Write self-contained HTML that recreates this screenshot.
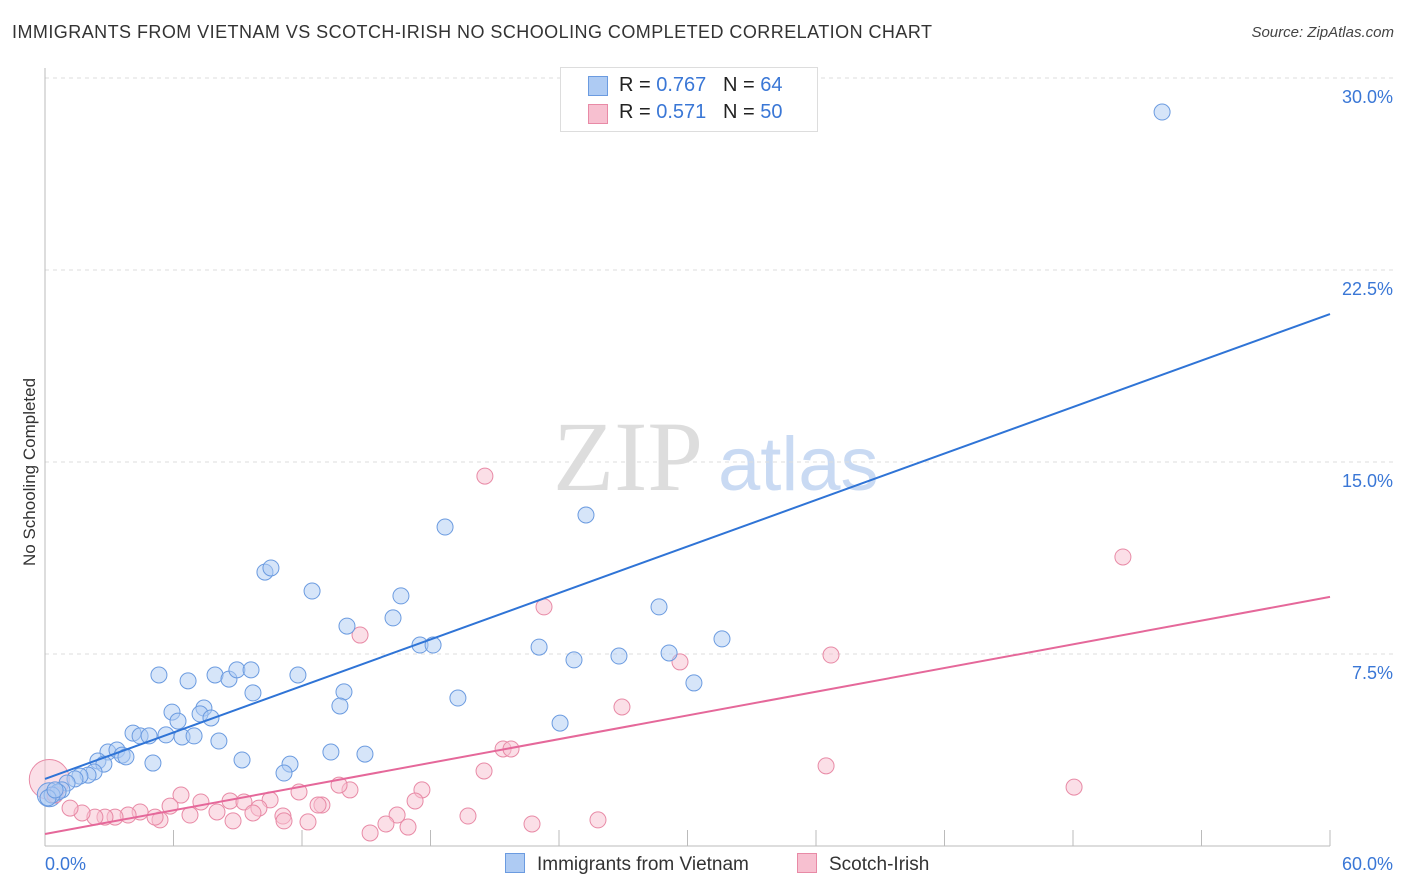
<!DOCTYPE html>
<html><head><meta charset="utf-8">
<style>
body{margin:0;background:#fff;font-family:"Liberation Sans",sans-serif;}
#wrap{position:relative;width:1406px;height:892px;overflow:hidden;}
.t{position:absolute;white-space:nowrap;}
</style></head>
<body>
<div id="wrap">
<div class="t" style="left:12px;top:22px;font-size:18px;color:#333;letter-spacing:0.45px;">IMMIGRANTS FROM VIETNAM VS SCOTCH-IRISH NO SCHOOLING COMPLETED CORRELATION CHART</div>
<div class="t" style="right:12px;top:24px;font-size:15px;color:#444;font-style:italic;">Source: ZipAtlas.com</div>
<div class="t" style="font-size:17px;color:#333;transform:rotate(-90deg);transform-origin:0 0;left:20px;top:566px;">No Schooling Completed</div>
<svg id="svg" width="1406" height="892" style="position:absolute;left:0;top:0"></svg>
<div class="t" style="left:560px;top:67px;width:256px;height:63px;border:1px solid #ddd;background:#fff;">
 <div style="position:absolute;left:27px;top:8px;width:18px;height:18px;background:#aecbf3;border:1px solid #6b9be0;"></div>
 <div style="position:absolute;left:58px;top:6px;font-size:20px;color:#222;">R = <span style="color:#3a77d6">0.767</span>&nbsp;&nbsp;&nbsp;N = <span style="color:#3a77d6">64</span></div>
 <div style="position:absolute;left:27px;top:36px;width:18px;height:18px;background:#f7c0d0;border:1px solid #e88aa6;"></div>
 <div style="position:absolute;left:58px;top:33px;font-size:20px;color:#222;">R = <span style="color:#3a77d6">0.571</span>&nbsp;&nbsp;&nbsp;N = <span style="color:#3a77d6">50</span></div>
</div>
<div class="t" style="left:505px;top:853px;font-size:19px;color:#333;"><span style="display:inline-block;width:18px;height:18px;background:#aecbf3;border:1px solid #6b9be0;vertical-align:-3px;margin-right:12px;"></span>Immigrants from Vietnam</div>
<div class="t" style="left:797px;top:853px;font-size:19px;color:#333;"><span style="display:inline-block;width:18px;height:18px;background:#f7c0d0;border:1px solid #e88aa6;vertical-align:-3px;margin-right:12px;"></span>Scotch-Irish</div>
</div>
<script>
const yTicks=[7.5,15,22.5,30];
const yTickLabels=["7.5%","15.0%","22.5%","30.0%"];
const xTickLabels=["0.0%","60.0%"];
const blueX=[];const blueY=[];const pinkX=[];const pinkY=[];
const bluePx=[[1162,112],[445,527],[586,515],[265,572],[271,568],[312,591],[401,596],[347,626],[393,618],[659,607],[420,645],[433,645],[539,647],[574,660],[619,656],[669,653],[722,639],[694,683],[159,675],[188,681],[215,675],[229,679],[237,670],[251,670],[298,675],[253,693],[344,692],[340,706],[458,698],[560,723],[172,712],[204,708],[200,714],[211,718],[178,721],[133,733],[140,736],[149,736],[166,735],[182,737],[194,736],[219,741],[108,752],[117,750],[122,755],[126,757],[98,761],[104,764],[153,763],[242,760],[331,752],[365,754],[290,764],[284,773],[94,772],[88,775],[80,776],[75,779],[67,783],[62,790],[58,792],[52,795],[48,798],[55,790]];
const pinkPx=[[485,476],[1123,557],[544,607],[360,635],[831,655],[680,662],[622,707],[503,749],[511,749],[484,771],[1074,787],[826,766],[422,790],[350,790],[339,785],[299,792],[181,795],[230,801],[270,800],[244,802],[201,802],[170,806],[140,812],[128,815],[322,805],[318,805],[415,801],[397,815],[386,824],[370,833],[468,816],[532,824],[598,820],[408,827],[308,822],[283,816],[284,821],[259,808],[253,813],[233,821],[217,812],[190,815],[160,820],[155,817],[115,817],[105,817],[95,817],[82,813],[70,808],[55,795]];
bluePx.forEach(p=>{blueX.push(+((p[0]-45)/1285*60).toFixed(2));blueY.push(+((846-p[1])/25.6).toFixed(2));});
pinkPx.forEach(p=>{pinkX.push(+((p[0]-45)/1285*60).toFixed(2));pinkY.push(+((846-p[1])/25.6).toFixed(2));});
const blueTrend=[2.62,20.78];const pinkTrend=[0.47,9.73];
const X=v=>45+v/60*1285, Y=v=>846-v*25.6;
const svg=document.getElementById('svg');const NS='http://www.w3.org/2000/svg';
function mk(t,a){const e=document.createElementNS(NS,t);for(const k in a)e.setAttribute(k,a[k]);svg.appendChild(e);return e;}
let wm=mk('text',{x:553,y:490,'font-size':100,fill:'#ddd','font-family':'Liberation Serif'});wm.textContent='ZIP';


let wm2=mk('text',{x:718,y:490,'font-size':76,fill:'#c9daf3','font-family':'Liberation Sans'});wm2.textContent='atlas';


yTicks.forEach((v,i)=>{const l=mk('line',{x1:45,x2:1393,y1:Y(v),y2:Y(v),stroke:'#ddd','stroke-dasharray':'4,4'});


const t=mk('text',{x:1393,y:Y(v)+25,'text-anchor':'end','font-size':18,fill:'#3a77d6'});t.textContent=yTickLabels[i];

});
mk('line',{x1:45,x2:45,y1:68,y2:846,stroke:'#bbb'});
mk('line',{x1:45,x2:1330,y1:846,y2:846,stroke:'#bbb'});
for(let i=0;i<=10;i++){const l=mk('line',{x1:X(i*6),x2:X(i*6),y1:830,y2:846,stroke:'#bbb'});

}
[[0,45,'start'],[1,1393,'end']].forEach(a=>{const t=mk('text',{x:a[1],y:870,'text-anchor':a[2],'font-size':18,fill:'#3a77d6'});t.textContent=xTickLabels[a[0]];

});
const big1=mk('circle',{cx:X(0.2),cy:Y(2.6),r:20,fill:'#f7c0d0','fill-opacity':0.5,stroke:'#e88aa6'});


const big2=mk('circle',{cx:X(0.2),cy:Y(2.0),r:12,fill:'#aecbf3','fill-opacity':0.6,stroke:'#6b9be0'});


pinkX.forEach((x,i)=>{const c=mk('circle',{cx:X(x),cy:Y(pinkY[i]),r:8,fill:'#f7c0d0','fill-opacity':0.5,stroke:'#e88aa6','stroke-width':1});

});
blueX.forEach((x,i)=>{const c=mk('circle',{cx:X(x),cy:Y(blueY[i]),r:8,fill:'#aecbf3','fill-opacity':0.5,stroke:'#6b9be0','stroke-width':1});

});
const bl=mk('line',{x1:X(0),y1:Y(blueTrend[0]),x2:X(60),y2:Y(blueTrend[1]),stroke:'#2f74d6','stroke-width':2});


const pl=mk('line',{x1:X(0),y1:Y(pinkTrend[0]),x2:X(60),y2:Y(pinkTrend[1]),stroke:'#e5689a','stroke-width':2});


</script>
</body></html>
